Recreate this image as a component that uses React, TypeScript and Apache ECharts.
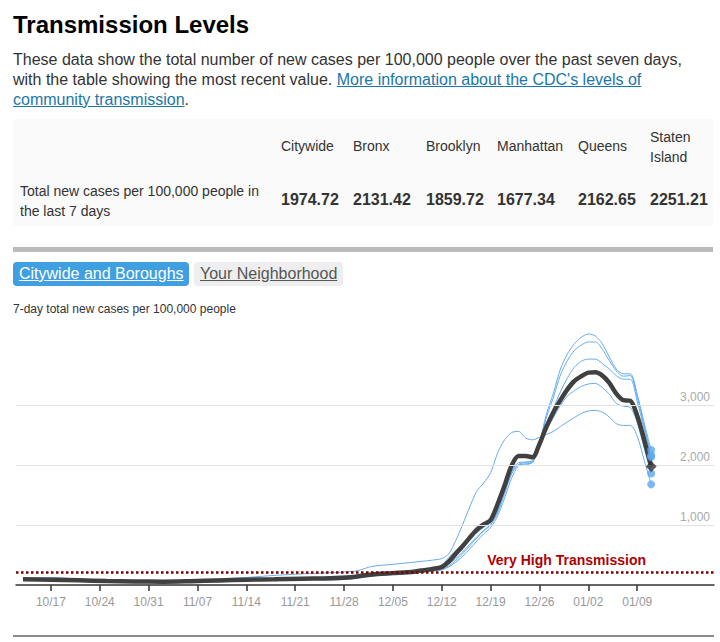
import React, { useEffect, useRef } from "react";
import * as echarts from "echarts";

const FONT = '"Liberation Sans", Arial, Helvetica, sans-serif';

// ---------- table data ----------
const tableHeaders = ["Citywide", "Bronx", "Brooklyn", "Manhattan", "Queens", "Staten Island"];
const tableValues = ["1974.72", "2131.42", "1859.72", "1677.34", "2162.65", "2251.21"];
const rowLabel = ["Total new cases per 100,000 people in", "the last 7 days"];

// ---------- axis data ----------
const categories: string[] = [];
for (let i = 0; i < 101; i++) {
  const d = new Date(2021, 9, 12 + i);
  categories.push(String(d.getMonth() + 1).padStart(2, "0") + "/" + String(d.getDate()).padStart(2, "0"));
}
const tickLabels = ["10/17", "10/24", "10/31", "11/07", "11/14", "11/21", "11/28", "12/05", "12/12", "12/19", "12/26", "01/02", "01/09"];
const yTicks = [1000, 2000, 3000];
const yTickLabels = ["1,000", "2,000", "3,000"];
const thresholdValue = 215;

// ---------- series data ----------
const citywide: [string, number][] = [
  ["10/13", 95], ["10/17", 89], ["10/21", 78], ["10/25", 66], ["10/29", 58], ["11/02", 56], ["11/06", 64],
  ["11/10", 76], ["11/14", 88], ["11/18", 96], ["11/22", 106], ["11/26", 112], ["11/29", 130], ["12/02", 175],
  ["12/05", 198], ["12/08", 222], ["12/09", 240], ["12/10", 255], ["12/11", 275], ["12/12", 300], ["12/13", 390],
  ["12/14", 520], ["12/15", 650], ["12/16", 790], ["12/17", 920], ["12/18", 1010], ["12/19", 1083], ["12/20", 1350],
  ["12/21", 1660], ["12/22", 1990], ["12/23", 2150], ["12/24", 2150], ["12/25", 2130], ["12/26", 2350], ["12/27", 2640],
  ["12/28", 2880], ["12/29", 3080], ["12/30", 3260], ["12/31", 3400], ["01/01", 3480], ["01/02", 3540], ["01/03", 3545],
  ["01/04", 3490], ["01/05", 3370], ["01/06", 3190], ["01/07", 3080], ["01/08", 3070], ["01/09", 2820], ["01/10", 2420],
  ["01/11", 1974.72],
];
const manhattan: [string, number][] = [
  ["10/13", 105], ["10/17", 100], ["10/21", 92], ["10/25", 80], ["10/29", 72], ["11/02", 70], ["11/06", 80],
  ["11/10", 98], ["11/14", 125], ["11/18", 160], ["11/22", 185], ["11/26", 205], ["11/29", 225], ["11/30", 240],
  ["12/02", 310], ["12/05", 345], ["12/08", 380], ["12/10", 405], ["12/11", 420], ["12/12", 440], ["12/13", 520],
  ["12/14", 740], ["12/15", 1010], ["12/16", 1300], ["12/17", 1560], ["12/18", 1700], ["12/19", 1870], ["12/20", 2200],
  ["12/21", 2420], ["12/22", 2540], ["12/23", 2560], ["12/24", 2450], ["12/25", 2420], ["12/26", 2460], ["12/27", 2510],
  ["12/28", 2560], ["12/29", 2640], ["12/30", 2720], ["12/31", 2790], ["01/01", 2860], ["01/02", 2900], ["01/03", 2910],
  ["01/04", 2880], ["01/05", 2800], ["01/06", 2690], ["01/07", 2660], ["01/08", 2660], ["01/09", 2480], ["01/10", 2080],
  ["01/11", 1677.34],
];
const statenIsland: [string, number][] = [
  ["10/13", 100], ["10/17", 125], ["10/21", 100], ["10/25", 72], ["10/29", 60], ["11/02", 55], ["11/06", 62],
  ["11/10", 72], ["11/14", 85], ["11/18", 95], ["11/22", 105], ["11/26", 112], ["11/29", 125], ["12/02", 160],
  ["12/05", 185], ["12/08", 210], ["12/09", 225], ["12/10", 235], ["12/11", 245], ["12/12", 260], ["12/13", 320],
  ["12/14", 410], ["12/15", 520], ["12/16", 650], ["12/17", 780], ["12/18", 900], ["12/19", 1000], ["12/20", 1200],
  ["12/21", 1520], ["12/22", 1850], ["12/23", 2010], ["12/24", 2040], ["12/25", 2060], ["12/26", 2380], ["12/27", 2850],
  ["12/28", 3200], ["12/29", 3600], ["12/30", 3850], ["12/31", 4020], ["01/01", 4130], ["01/02", 4183], ["01/03", 4150],
  ["01/04", 4020], ["01/05", 3800], ["01/06", 3600], ["01/07", 3520], ["01/08", 3520], ["01/09", 3180], ["01/10", 2700],
  ["01/11", 2251.21],
];
const queens: [string, number][] = [
  ["10/13", 85], ["10/17", 82], ["10/21", 72], ["10/25", 60], ["10/29", 52], ["11/02", 50], ["11/06", 56],
  ["11/10", 68], ["11/14", 80], ["11/18", 88], ["11/22", 96], ["11/26", 100], ["11/29", 115], ["12/02", 150],
  ["12/05", 175], ["12/08", 200], ["12/09", 215], ["12/10", 225], ["12/11", 235], ["12/12", 250], ["12/13", 300],
  ["12/14", 380], ["12/15", 480], ["12/16", 600], ["12/17", 730], ["12/18", 850], ["12/19", 960], ["12/20", 1150],
  ["12/21", 1450], ["12/22", 1780], ["12/23", 1990], ["12/24", 2020], ["12/25", 2040], ["12/26", 2360], ["12/27", 2800],
  ["12/28", 3130], ["12/29", 3500], ["12/30", 3740], ["12/31", 3910], ["01/01", 4000], ["01/02", 4050], ["01/03", 4050],
  ["01/04", 3930], ["01/05", 3740], ["01/06", 3570], ["01/07", 3480], ["01/08", 3490], ["01/09", 3130], ["01/10", 2650],
  ["01/11", 2162.65],
];
const bronx: [string, number][] = [
  ["10/13", 95], ["10/17", 92], ["10/21", 82], ["10/25", 70], ["10/29", 62], ["11/02", 60], ["11/06", 68],
  ["11/10", 80], ["11/14", 92], ["11/18", 102], ["11/22", 112], ["11/26", 120], ["11/29", 140], ["12/02", 190],
  ["12/05", 215], ["12/08", 240], ["12/09", 255], ["12/10", 270], ["12/11", 290], ["12/12", 330], ["12/13", 460],
  ["12/14", 570], ["12/15", 680], ["12/16", 780], ["12/17", 870], ["12/18", 960], ["12/19", 1040], ["12/20", 1260],
  ["12/21", 1580], ["12/22", 1900], ["12/23", 2040], ["12/24", 2050], ["12/25", 2070], ["12/26", 2340], ["12/27", 2680],
  ["12/28", 2950], ["12/29", 3220], ["12/30", 3450], ["12/31", 3630], ["01/01", 3730], ["01/02", 3765], ["01/03", 3765],
  ["01/04", 3690], ["01/05", 3600], ["01/06", 3490], ["01/07", 3430], ["01/08", 3430], ["01/09", 3060], ["01/10", 2600],
  ["01/11", 2131.42],
];
const brooklyn: [string, number][] = [
  ["10/13", 90], ["10/17", 85], ["10/21", 74], ["10/25", 62], ["10/29", 54], ["11/02", 52], ["11/06", 58],
  ["11/10", 66], ["11/14", 76], ["11/18", 84], ["11/22", 92], ["11/26", 82], ["11/29", 100], ["12/02", 150],
  ["12/05", 180], ["12/08", 215], ["12/09", 230], ["12/10", 245], ["12/11", 260], ["12/12", 280], ["12/13", 350],
  ["12/14", 440], ["12/15", 550], ["12/16", 680], ["12/17", 800], ["12/18", 910], ["12/19", 1010], ["12/20", 1230],
  ["12/21", 1550], ["12/22", 1880], ["12/23", 2000], ["12/24", 2000], ["12/25", 2060], ["12/26", 2330], ["12/27", 2580],
  ["12/28", 2790], ["12/29", 2990], ["12/30", 3150], ["12/31", 3240], ["01/01", 3310], ["01/02", 3350], ["01/03", 3360],
  ["01/04", 3290], ["01/05", 3180], ["01/06", 3030], ["01/07", 2980], ["01/08", 2960], ["01/09", 2700], ["01/10", 2280],
  ["01/11", 1859.72],
];

const boroughSeries: { name: string; data: [string, number][] }[] = [
  { name: "Bronx", data: bronx },
  { name: "Brooklyn", data: brooklyn },
  { name: "Manhattan", data: manhattan },
  { name: "Queens", data: queens },
  { name: "Staten Island", data: statenIsland },
];

const BLUE = "#66acef";
const BLUE_DOT = "#5ea8ee";
const DARK = "#404040";

const tableX = [281, 353, 426, 497, 578, 650];

function Chart() {
  const ref = useRef<HTMLDivElement>(null);
  useEffect(() => {
    if (!ref.current) return;
    const chart = echarts.init(ref.current, undefined, { renderer: "svg" });
    const showTick = (_i: number, v: string) => tickLabels.indexOf(v) >= 0;
    const series: any[] = boroughSeries.map((b, i) => ({
      name: b.name,
      type: "line",
      data: b.data,
      smooth: 0.3,
      showSymbol: false,
      silent: true,
      z: 2,
      lineStyle: { color: BLUE, width: 1 },
      ...(i === 0
        ? {
            markLine: {
              silent: true,
              symbol: ["none", "none"],
              animation: false,
              lineStyle: { color: "#e3e3e3", width: 1, type: "solid" },
              label: {
                position: "insideEndTop",
                color: "#aaaaaa",
                fontSize: 12,
                fontFamily: FONT,
                distance: [4, 2],
              },
              data: yTicks.map((v, k) => ({ yAxis: v, label: { formatter: yTickLabels[k] } })),
            },
          }
        : {}),
    }));
    series.push({
      name: "Citywide",
      type: "line",
      data: citywide,
      smooth: 0.3,
      showSymbol: false,
      silent: true,
      z: 3,
      lineStyle: { color: DARK, width: 4.5 },
      markLine: {
        silent: true,
        symbol: ["none", "none"],
        animation: false,
        lineStyle: { color: "#7a0000", width: 2.5, type: [2.5, 2.5] },
        label: {
          position: "insideEndTop",
          formatter: "Very High Transmission",
          color: "#b00000",
          fontWeight: "bold",
          fontSize: 14,
          fontFamily: FONT,
          distance: [68, 5],
        },
        data: [{ yAxis: thresholdValue }],
      },
    });
    series.push({
      name: "Borough latest",
      type: "scatter",
      data: boroughSeries.map((b) => b.data[b.data.length - 1]),
      symbol: "circle",
      symbolSize: 8,
      itemStyle: { color: BLUE_DOT },
      silent: true,
      z: 4,
    });
    series.push({
      name: "Citywide latest",
      type: "scatter",
      data: [citywide[citywide.length - 1]],
      symbol: "diamond",
      symbolSize: 11,
      itemStyle: { color: "#333333" },
      silent: true,
      z: 5,
    });

    chart.setOption({
      animation: false,
      textStyle: { fontFamily: FONT },
      grid: { left: 16, right: 6, top: 315, bottom: 57 },
      xAxis: {
        type: "category",
        data: categories,
        boundaryGap: false,
        axisLine: { lineStyle: { color: "#333333", width: 1.5 } },
        axisTick: { interval: showTick, length: 6, lineStyle: { color: "#333333", width: 1.5 } },
        axisLabel: { interval: showTick, color: "#999999", fontSize: 12, margin: 11, fontFamily: FONT },
        splitLine: { show: false },
      },
      yAxis: {
        type: "value",
        min: 0,
        max: 4500,
        axisLine: { show: false },
        axisTick: { show: false },
        axisLabel: { show: false },
        splitLine: { show: false },
      },
      series,
    });
    return () => chart.dispose();
  }, []);
  return <div ref={ref} style={{ position: "absolute", left: 0, top: 0, width: 720, height: 642 }} />;
}

const abs = (extra: React.CSSProperties): React.CSSProperties => ({
  position: "absolute",
  whiteSpace: "nowrap",
  ...extra,
});

export default function App() {
  const link = "#1a77a8";
  return (
    <div
      style={{
        position: "absolute",
        left: 0,
        top: 0,
        width: 720,
        height: 642,
        overflow: "hidden",
        background: "#ffffff",
        fontFamily: FONT,
      }}
    >
      <div style={abs({ left: 13, top: 118.5, width: 700, height: 107.5, background: "#fafafa" })} />
      <div style={abs({ left: 13, top: 247, width: 700, height: 4.5, background: "#bbbbbb" })} />
      <div style={abs({ left: 13, top: 262, width: 176, height: 23.5, background: "#409fe0", borderRadius: 4 })} />
      <div style={abs({ left: 194, top: 262, width: 149, height: 23.5, background: "#eeeeee", borderRadius: 4 })} />
      <div style={abs({ left: 13, top: 635, width: 701, height: 2, background: "#8a8a8a" })} />

      <Chart />

      <div style={abs({ left: 13, top: 12.7, fontSize: 24, lineHeight: "24px", fontWeight: "bold", color: "#000" })}>
        Transmission Levels
      </div>
      <div style={abs({ left: 13, top: 49.5, fontSize: 16, lineHeight: "20px", color: "#333" })}>
        These data show the total number of new cases per 100,000 people over the past seven days,
        <br />
        with the table showing the most recent value.{" "}
        <span style={{ color: link, textDecoration: "underline" }}>More information about the CDC's levels of</span>
        <br />
        <span style={{ color: link, textDecoration: "underline" }}>community transmission</span>.
      </div>

      {tableHeaders.map((h, i) => (
        <div
          key={h}
          style={abs({
            left: tableX[i],
            top: h === "Staten Island" ? 126.9 : 136.2,
            fontSize: 14,
            lineHeight: "20px",
            color: "#333",
          })}
        >
          {h === "Staten Island" ? (
            <>
              Staten
              <br />
              Island
            </>
          ) : (
            h
          )}
        </div>
      ))}
      <div style={abs({ left: 20, top: 180.7, fontSize: 14, lineHeight: "20px", color: "#333" })}>
        {rowLabel[0]}
        <br />
        {rowLabel[1]}
      </div>
      {tableValues.map((v, i) => (
        <div
          key={i}
          style={abs({ left: tableX[i], top: 189.5, fontSize: 16, lineHeight: "20px", fontWeight: "bold", color: "#333" })}
        >
          {v}
        </div>
      ))}

      <div style={abs({ left: 19, top: 264, fontSize: 16, lineHeight: "20px", color: "#fff", textDecoration: "underline" })}>
        Citywide and Boroughs
      </div>
      <div style={abs({ left: 200, top: 264, fontSize: 16, lineHeight: "20px", color: "#555", textDecoration: "underline" })}>
        Your Neighborhood
      </div>
      <div style={abs({ left: 13, top: 300.8, fontSize: 12, lineHeight: "16px", color: "#333" })}>
        7-day total new cases per 100,000 people
      </div>
    </div>
  );
}
